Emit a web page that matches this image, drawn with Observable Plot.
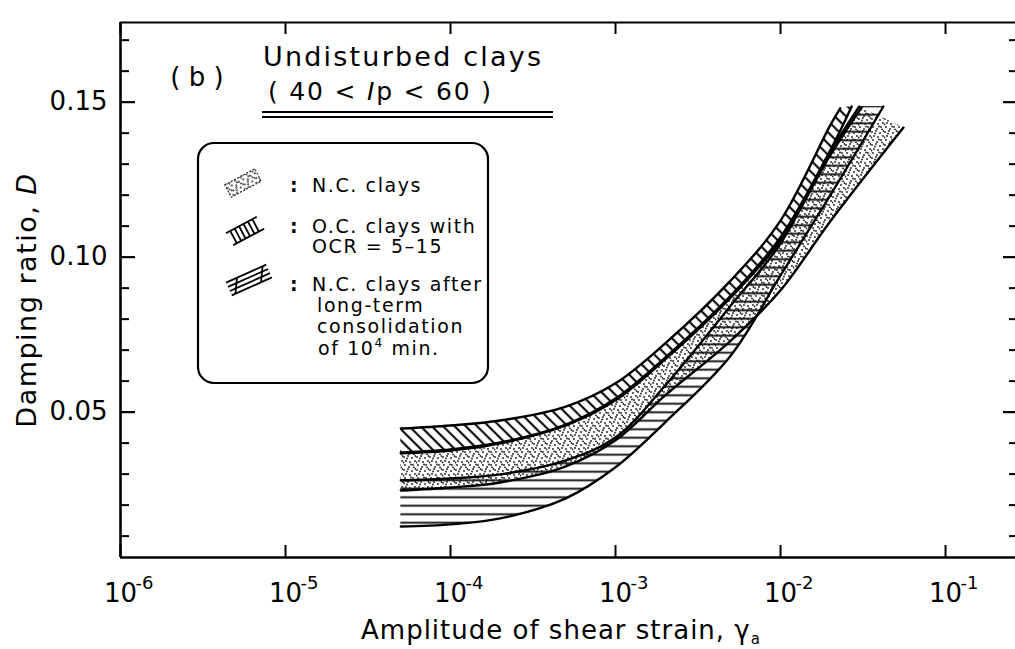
<!DOCTYPE html>
<html><head><meta charset="utf-8">
<script src="https://cdn.jsdelivr.net/npm/d3@7"></script>
<script src="https://cdn.jsdelivr.net/npm/@observablehq/plot@0.6"></script>
<style>
html,body{margin:0;padding:0;background:#fff;}
#chart svg{display:block;}
</style></head><body><div id="chart"></div>
<script>
// ---------------- data ----------------
const strainGrid = [5e-5, 1e-4, 2e-4, 5e-4, 1e-3, 2e-3, 5e-3, 1e-2, 2e-2];

// O.C. clays with OCR = 5-15
const ocUpperD = [0.0447, 0.0457, 0.0473, 0.0518, 0.0593, 0.0722, 0.0925, 0.1118, 0.1425];
const ocUpperEnd = {strain: 0.023, D: 0.1480};
const ocLowerD = [0.0370, 0.0380, 0.0402, 0.0460, 0.0544, 0.0676, 0.0876, 0.1064, 0.1344];
const ocLowerEnd = {strain: 0.027, D: 0.1486};

// N.C. clays
const ncUpperD = [0.0367, 0.0376, 0.0399, 0.0457, 0.0538, 0.0670, 0.0870, 0.1054, 0.1328];
const ncUpperEnd = {strain: 0.031, D: 0.1483};
const ncLowerD = [0.0247, 0.0257, 0.0273, 0.0325, 0.0409, 0.0554, 0.0731, 0.0893, 0.1115];
const ncLowerEnd = {strain: 0.0556, D: 0.1418};

// N.C. clays after long-term consolidation
const ltUpperD = [0.0280, 0.0286, 0.0299, 0.0344, 0.0418, 0.0586, 0.0844, 0.1044, 0.1338];
const ltUpperEnd = {strain: 0.030, D: 0.1486};
const ltLowerD = [0.0131, 0.0138, 0.0157, 0.0222, 0.0322, 0.0467, 0.0683, 0.0941, 0.1199];
const ltLowerEnd = {strain: 0.042, D: 0.1486};

// axes
const xDomain = [1e-6, 0.2655];
const yDomain = [0.0031, 0.1757];
const xTickValues = [1e-6, 1e-5, 1e-4, 1e-3, 1e-2, 1e-1];
const xTickExps = ["-6", "-5", "-4", "-3", "-2", "-1"];
const yMajorTicks = [0.05, 0.10, 0.15];
const yMajorLabels = ["0.05", "0.10", "0.15"];
const yMinorTicks = [0.01, 0.02, 0.03, 0.04, 0.06, 0.07, 0.08, 0.09, 0.11, 0.12, 0.13, 0.14, 0.16, 0.17];

// ---------------- build ----------------
const curve = (D, end) => strainGrid.map((s, i) => ({strain: s, D: D[i]})).concat([end]);
const band = (up, lo) => up.map((u, i) => ({xu: u.strain, yu: u.D, xl: lo[i].strain, yl: lo[i].D}));

const ocU = curve(ocUpperD, ocUpperEnd), ocL = curve(ocLowerD, ocLowerEnd);
const ncU = curve(ncUpperD, ncUpperEnd), ncL = curve(ncLowerD, ncLowerEnd);
const ltU = curve(ltUpperD, ltUpperEnd), ltL = curve(ltLowerD, ltLowerEnd);

const W = 1015, H = 649, mL = 120, mR = 0, mT = 22, mB = 92;
const fw = W - mL - mR, fh = H - mT - mB;
const FONT = "DejaVu Sans";

const bandOpts = {x1: "xl", y1: "yl", x2: "xu", y2: "yu", curve: "catmull-rom"};
const lineOpts = {x: "strain", y: "D", stroke: "black", strokeWidth: 2.4, curve: "catmull-rom"};

const plot = Plot.plot({
  width: W, height: H,
  marginLeft: mL, marginRight: mR, marginTop: mT, marginBottom: mB,
  x: {type: "log", domain: xDomain, axis: null},
  y: {domain: yDomain, axis: null},
  style: {background: "white", color: "black", fontFamily: FONT},
  marks: [
    Plot.area(band(ncU, ncL), {...bandOpts, fill: "#010101"}),
    Plot.area(band(ltU, ltL), {...bandOpts, fill: "#030303"}),
    Plot.area(band(ocU, ocL), {...bandOpts, fill: "#020202"}),
    ...[ocU, ocL, ncU, ncL, ltU, ltL].map(c => Plot.line(c, lineOpts)),
    // frame (left, bottom, top)
    Plot.ruleY([yDomain[0]], {y: d => d, strokeWidth: 2.6}),
    Plot.ruleY([yDomain[1]], {y: d => d, strokeWidth: 2}),
    Plot.ruleX([xDomain[0]], {x: d => d, strokeWidth: 2.6}),
    // y ticks left (inward) and right (inward)
    Plot.tickY(yMinorTicks, {y: d => d, insetRight: fw - 9, strokeWidth: 2}),
    Plot.tickY(yMajorTicks, {y: d => d, insetRight: fw - 15, strokeWidth: 2.2}),
    Plot.tickY(yMinorTicks, {y: d => d, insetLeft: fw - 6, strokeWidth: 2}),
    Plot.tickY(yMajorTicks, {y: d => d, insetLeft: fw - 12, strokeWidth: 2.2}),
    // x ticks bottom and top (inward)
    Plot.tickX(xTickValues, {x: d => d, insetTop: fh - 12, strokeWidth: 2}),
    Plot.tickX(xTickValues, {x: d => d, insetBottom: fh - 12, strokeWidth: 2}),
    // tick labels
    Plot.text(yMajorTicks, {y: d => d, text: (d, i) => yMajorLabels[i], frameAnchor: "left", dx: -13, textAnchor: "end", fontSize: 26, fontFamily: FONT}),
    Plot.text(xTickValues, {x: d => d, text: () => "10", frameAnchor: "bottom", dy: 44, fontSize: 26, fontFamily: FONT}),
    Plot.text(xTickValues, {x: d => d, text: (d, i) => xTickExps[i], frameAnchor: "bottom", dx: 15, dy: 31, textAnchor: "start", fontSize: 18, fontFamily: FONT})
  ]
});
document.getElementById("chart").appendChild(plot);

// ---------------- patterns ----------------
const svg = d3.select(plot);
const defs = svg.insert("defs", ":first-child");
const pd = defs.append("pattern").attr("id", "pDots").attr("patternUnits", "userSpaceOnUse").attr("width", 13).attr("height", 13);
[[1,2],[5,1],[9,3],[12,6],[3,6],[7,7],[10,10],[2,10],[6,12],[11,12.5],[4,3.5],[8,9.5],[0.5,7.5],[12.5,1]].forEach(([x, y]) =>
  pd.append("circle").attr("cx", x).attr("cy", y).attr("r", 0.9).attr("fill", "#1a1a1a"));
const po = defs.append("pattern").attr("id", "pOC").attr("patternUnits", "userSpaceOnUse")
  .attr("width", 8).attr("height", 8).attr("patternTransform", "rotate(-45)");
po.append("line").attr("x1", 4).attr("x2", 4).attr("y1", -1).attr("y2", 9).attr("stroke", "#111").attr("stroke-width", 2.2);
const pl = defs.append("pattern").attr("id", "pLT").attr("patternUnits", "userSpaceOnUse").attr("width", 10).attr("height", 8.5);
pl.append("line").attr("x1", -1).attr("x2", 11).attr("y1", 4.25).attr("y2", 4.25).attr("stroke", "#111").attr("stroke-width", 1.9);

svg.selectAll('[fill="#010101"]').attr("fill", "url(#pDots)");
svg.selectAll('[fill="#020202"]').attr("fill", "url(#pOC)");
svg.selectAll('[fill="#030303"]').attr("fill", "url(#pLT)");

// ---------------- annotations ----------------
const ann = svg.append("g").attr("font-family", FONT).attr("fill", "black").attr("text-anchor", "start");
// axis titles
const yl = ann.append("text").attr("transform", "translate(27,300) rotate(-90)").attr("text-anchor", "middle")
  .attr("dy", "0.35em").attr("font-size", 27).attr("letter-spacing", 1.5);
yl.append("tspan").text("Damping ratio, ");
yl.append("tspan").attr("font-style", "italic").text("D");
const xl = ann.append("text").attr("x", 561).attr("y", 639).attr("text-anchor", "middle").attr("font-size", 26).attr("letter-spacing", 1);
xl.append("tspan").text("Amplitude of shear strain, γ");
xl.append("tspan").attr("font-size", 15).attr("dy", 5).text("a");

// title
ann.append("text").attr("x", 197).attr("y", 86).attr("text-anchor", "middle").attr("font-size", 26).text("( b )");
ann.append("text").attr("x", 263).attr("y", 66).attr("text-anchor", "start").attr("font-size", 27).attr("letter-spacing", 2.2).text("Undisturbed clays");
const ip = ann.append("text").attr("x", 268).attr("y", 100).attr("text-anchor", "start").attr("font-size", 25).attr("letter-spacing", 1.8);
ip.append("tspan").text("( 40 < ");
ip.append("tspan").attr("font-style", "italic").text("I");
ip.append("tspan").text("p < 60 )");
ann.append("line").attr("x1", 262).attr("x2", 553).attr("y1", 112).attr("y2", 112).attr("stroke", "black").attr("stroke-width", 2);
ann.append("line").attr("x1", 262).attr("x2", 553).attr("y1", 117).attr("y2", 117).attr("stroke", "black").attr("stroke-width", 2);

// legend
const lg = svg.append("g").attr("font-family", FONT).attr("text-anchor", "start").attr("fill", "black");
lg.append("rect").attr("x", 198).attr("y", 143).attr("width", 290).attr("height", 240).attr("rx", 16)
  .attr("fill", "white").attr("stroke", "black").attr("stroke-width", 2.2);
// symbol 1: dotted
const s1 = lg.append("g").attr("transform", "translate(243,183) rotate(-28)");
s1.append("rect").attr("x", -17).attr("y", -7).attr("width", 34).attr("height", 14).attr("fill", "url(#pDots)")
  .attr("stroke", "#333").attr("stroke-width", 1.2).attr("stroke-dasharray", "2 1.5");
// symbol 2: ladder (lines across)
const s2 = lg.append("g").attr("transform", "translate(245,231) rotate(-28)").attr("stroke", "black").attr("stroke-width", 1.8);
s2.append("line").attr("x1", -18).attr("x2", 17).attr("y1", -7).attr("y2", -7);
s2.append("line").attr("x1", -17).attr("x2", 18).attr("y1", 7).attr("y2", 7);
[-13, -8, -3, 2, 7, 12].forEach(x => s2.append("line").attr("x1", x).attr("x2", x).attr("y1", -7).attr("y2", 7));
// symbol 3: lines along
const s3 = lg.append("g").attr("transform", "translate(249,280) rotate(-24)").attr("stroke", "black").attr("stroke-width", 1.8);
[-7, -2.3, 2.3, 7].forEach(y => s3.append("line").attr("x1", -22).attr("x2", 22).attr("y1", y).attr("y2", y));
s3.append("line").attr("x1", -18).attr("x2", -10).attr("y1", 7).attr("y2", -7);
s3.append("line").attr("x1", 10).attr("x2", 18).attr("y1", 7).attr("y2", -7);

const lt = (x, y, s) => lg.append("text").attr("x", x).attr("y", y).attr("font-size", 19).attr("letter-spacing", 1.6).text(s);
[192, 233, 291].forEach(y => lg.append("text").attr("x", 290).attr("y", y).attr("font-size", 19).attr("font-weight", "bold").text(":"));
lt(312, 192, "N.C. clays");
lt(312, 233, "O.C. clays with");
lt(312, 253, "OCR = 5–15");
lt(312, 291, "N.C. clays after");
lt(317, 312, "long-term");
lt(317, 333, "consolidation");
const of = lg.append("text").attr("x", 318).attr("y", 355).attr("font-size", 19).attr("letter-spacing", 1.6);
of.append("tspan").text("of 10");
of.append("tspan").attr("font-size", 12).attr("dy", -8).text("4");
of.append("tspan").attr("dy", 8).text(" min.");
</script>
</body></html>
